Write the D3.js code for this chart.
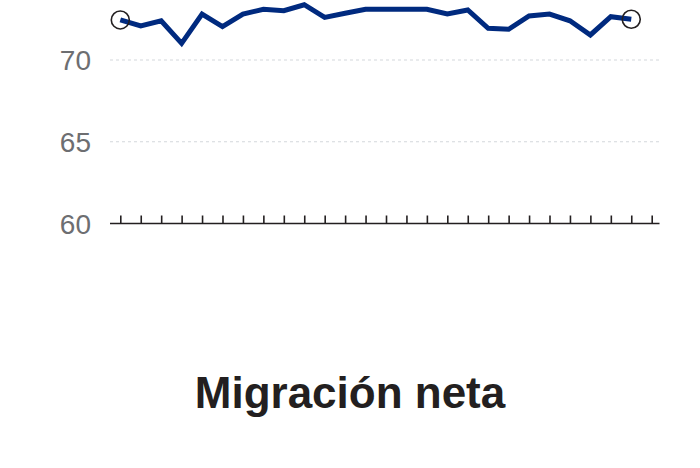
<!DOCTYPE html>
<html>
  <head>
    <meta charset="utf-8">
    <title>Migración neta</title>
    <script src="https://d3js.org/d3.v7.min.js"></script>
    <style>
      body { margin: 0; background: #fff; }
    </style>
  </head>
  <body>
    <svg width="700" height="468"></svg>

    <script>
      // datos
      const years = d3.range(1990, 2016);
      const values = [72.45, 72.08, 72.40, 71.02, 72.81, 72.04, 72.81, 73.10, 73.02, 73.38,
                      72.61, 72.86, 73.10, 73.10, 73.10, 73.10, 72.81, 73.06, 71.94, 71.88,
                      72.69, 72.81, 72.40, 71.53, 72.65, 72.49];
      const yTicks = [60, 65, 70];
      const title = "Migración neta";

      const data = years.map((yr, i) => ({ year: yr, value: values[i] }));

      const svg = d3.select("svg");

      // escalas
      const x = d3.scaleLinear()
        .domain([1990, 2016])
        .range([120.3, 651.7]);

      const y = d3.scaleLinear()
        .domain([60, 70])
        .range([223.5, 60]);

      const left = 110, right = 659.5;

      // líneas de cuadrícula
      svg.append("g")
        .selectAll("line")
        .data(yTicks.filter(d => d > 60))
        .join("line")
        .attr("x1", left)
        .attr("x2", right)
        .attr("y1", d => y(d))
        .attr("y2", d => y(d))
        .attr("stroke", "#d4d8dc")
        .attr("stroke-width", 1.2)
        .attr("stroke-dasharray", "3,3");

      // etiquetas del eje y
      svg.append("g")
        .selectAll("text")
        .data(yTicks)
        .join("text")
        .attr("x", 91)
        .attr("y", d => y(d))
        .attr("dy", "0.36em")
        .attr("text-anchor", "end")
        .attr("font-family", "Liberation Sans, Arial, sans-serif")
        .attr("font-size", 28)
        .attr("fill", "#6d6e71")
        .text(d => d);

      // eje x
      const xAxis = svg.append("g")
        .attr("transform", `translate(0,${y(60)})`)
        .call(d3.axisTop(x)
          .tickValues(d3.range(1990, 2017))
          .tickSize(8)
          .tickFormat(""));
      xAxis.select(".domain").remove();
      xAxis.selectAll("line").attr("stroke", "#231f20").attr("stroke-width", 1.6);
      xAxis.append("line")
        .attr("x1", left)
        .attr("x2", right)
        .attr("stroke", "#231f20")
        .attr("stroke-width", 1.6);

      // línea de la serie
      const line = d3.line()
        .x(d => x(d.year))
        .y(d => y(d.value));

      svg.append("path")
        .datum(data)
        .attr("fill", "none")
        .attr("stroke", "#002a7f")
        .attr("stroke-width", 5)
        .attr("stroke-linejoin", "miter")
        .attr("d", line);

      // círculos en los extremos
      svg.append("g")
        .selectAll("circle")
        .data([data[0], data[data.length - 1]])
        .join("circle")
        .attr("cx", d => x(d.year))
        .attr("cy", d => y(d.value))
        .attr("r", 9)
        .attr("fill", "none")
        .attr("stroke", "#231f20")
        .attr("stroke-width", 1.6);

      // título
      svg.append("text")
        .attr("x", 350)
        .attr("y", 408)
        .attr("text-anchor", "middle")
        .attr("font-family", "Liberation Sans, Arial, sans-serif")
        .attr("font-weight", "bold")
        .attr("font-size", 44)
        .attr("fill", "#231f20")
        .text(title);
    </script>
  </body>
</html>
